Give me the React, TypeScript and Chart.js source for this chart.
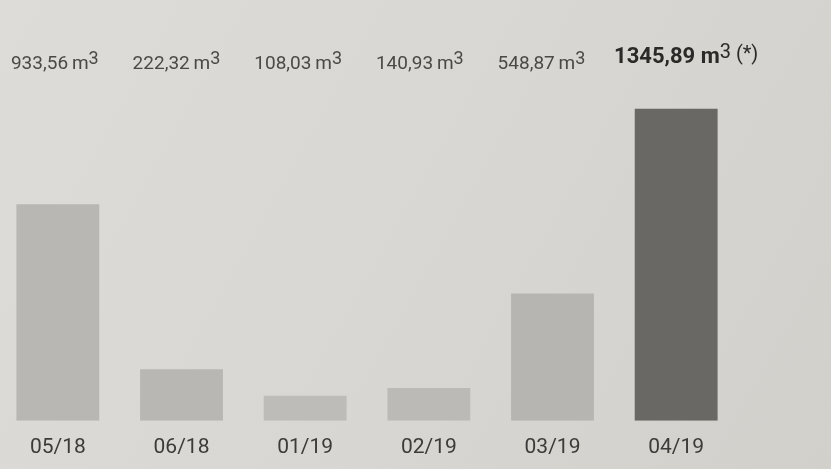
import React, { useEffect, useRef } from "react";
import { Chart, registerables } from "chart.js";

Chart.register(...registerables);

const categories = ["05/18", "06/18", "01/19", "02/19", "03/19", "04/19"];
const consumption = [933.56, 222.32, 108.03, 140.93, 548.87, 1345.89];
const highlighted = [false, false, false, false, false, true];
const barColors = ["#b9b7b3", "#b9b7b3", "#bebcb8", "#bcbab6", "#b7b5b1", "#6a6865"];

const fmt = (v: number) => v.toFixed(2).replace(".", ",");

const valueLabels = {
  id: "valueLabels",
  afterDatasetsDraw(chart: any) {
    const ctx = chart.ctx;
    const meta = chart.getDatasetMeta(0);
    ctx.save();
    ctx.textBaseline = "alphabetic";
    meta.data.forEach((bar: any, i: number) => {
      const bold = highlighted[i];
      const main = fmt(consumption[i]) + (bold ? " m" : "\u2009m");
      const sup = "3";
      const tail = bold ? " (*)" : "";
      const mainFont = bold ? "bold 22px Roboto" : "19px Roboto";
      const supFont = bold ? "20px Roboto" : "18px Roboto";
      const tailFont = bold ? "20px Roboto" : "19px Roboto";
      ctx.font = mainFont;
      const w1 = ctx.measureText(main).width;
      ctx.font = supFont;
      const w2 = ctx.measureText(sup).width;
      ctx.font = tailFont;
      const w3 = ctx.measureText(tail).width;
      const total = w1 + w2 + w3;
      const cx = bar.x + (bold ? 10 : -3 - i * 2);
      let x = cx - total / 2;
      const y = bold ? 63 : 69;
      ctx.fillStyle = bold ? "#2b2a29" : "#4a4947";
      ctx.textAlign = "left";
      ctx.font = mainFont;
      ctx.fillText(main, x, y);
      x += w1;
      ctx.font = supFont;
      ctx.fillText(sup, x, y - 5);
      x += w2;
      ctx.font = tailFont;
      ctx.fillText(tail, x, y - 3);
    });
    ctx.restore();
  },
};

const bgPlugin = {
  id: "bg",
  beforeDraw(chart: any) {
    const { ctx, width, height } = chart;
    const g = ctx.createLinearGradient(0, 0, width, height);
    g.addColorStop(0, "#dddcd8");
    g.addColorStop(0.5, "#d9d7d3");
    g.addColorStop(1, "#d2d0cb");
    ctx.save();
    ctx.fillStyle = g;
    ctx.fillRect(0, 0, width, height);
    ctx.restore();
  },
};

export default function App() {
  const ref = useRef<HTMLCanvasElement>(null);
  useEffect(() => {
    if (!ref.current) return;
    const chart = new Chart(ref.current, {
      type: "bar",
      data: {
        labels: categories,
        datasets: [
          {
            data: consumption,
            backgroundColor: barColors,
            barPercentage: 0.67,
            categoryPercentage: 1,
          },
        ],
      },
      options: {
        responsive: false,
        animation: false,
        layout: { padding: { top: 73, right: 93, left: 0, bottom: 3 } },
        plugins: { legend: { display: false }, tooltip: { enabled: false } },
        scales: {
          x: {
            grid: { display: false },
            border: { display: false },
            ticks: { font: { family: "Roboto", size: 21 }, color: "#3c3b39", padding: 6 },
          },
          y: {
            display: false,
            min: 0,
            max: 1500,
          },
        },
      },
      plugins: [bgPlugin, valueLabels],
    });
    return () => chart.destroy();
  }, []);
  return (
    <div style={{ position: "fixed", left: 0, top: 0, width: 831, height: 469, background: "#d9d7d3" }}>
      <canvas ref={ref} width={835} height={469} style={{ position: "absolute", left: -4, top: 0 }} />
    </div>
  );
}
